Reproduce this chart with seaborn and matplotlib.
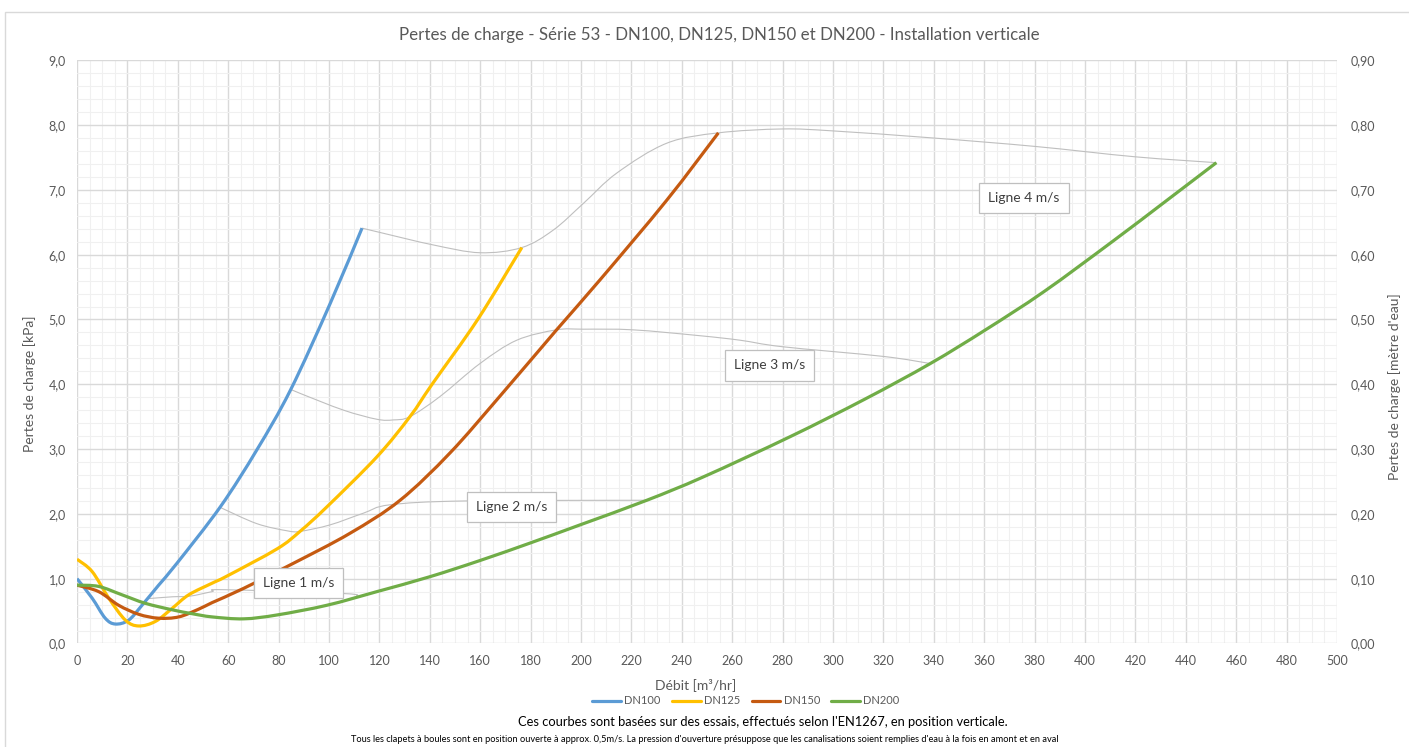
import matplotlib
matplotlib.use("Agg")
import matplotlib.pyplot as plt
import matplotlib.patches as mpatches
from matplotlib.path import Path
from matplotlib.lines import Line2D
from matplotlib.ticker import MultipleLocator, FuncFormatter
import seaborn as sns
import pandas as pd

# ---------------- data ----------------
series_names = ["DN100", "DN125", "DN150", "DN200"]

dn100_x = [0, 6, 11.2, 15.2, 20.5, 25.8, 32.4, 39.7, 56.9, 71.4, 84.7, 100.5, 113.1]
dn100_y = [1.00, 0.70, 0.39, 0.30, 0.36, 0.59, 0.90, 1.24, 2.11, 2.99, 3.91, 5.25, 6.41]

dn125_x = [0, 6, 12.6, 19.2, 24.5, 31.1, 37.7, 44.3, 53.6, 59.5, 79.4, 88.5, 99.2, 119, 132.1, 140.9, 159, 176.5]
dn125_y = [1.30, 1.11, 0.70, 0.36, 0.27, 0.34, 0.54, 0.75, 0.93, 1.04, 1.46, 1.73, 2.11, 2.88, 3.50, 4.00, 5.00, 6.11]

dn150_x = [0, 8.6, 16.5, 24.5, 32.4, 40.4, 48.3, 53.6, 66.1, 86, 108.3, 128.2, 148, 167.9, 190.3, 207.5, 234, 254.5]
dn150_y = [0.90, 0.80, 0.59, 0.45, 0.39, 0.41, 0.53, 0.63, 0.85, 1.24, 1.70, 2.21, 2.94, 3.82, 4.84, 5.61, 6.84, 7.88]

dn200_x = [0, 8.6, 17.9, 27.1, 37.7, 45.6, 53.6, 66.1, 79.4, 99.2, 119, 140, 159.9, 179.8, 199.6, 226.1,
           248.5, 282.9, 312.6, 338.6, 360.5, 383.7, 411.1, 431.5, 452.1]
dn200_y = [0.90, 0.88, 0.75, 0.62, 0.52, 0.46, 0.41, 0.38, 0.44, 0.59, 0.80, 1.03, 1.28, 1.55, 1.83, 2.21,
           2.57, 3.19, 3.77, 4.32, 4.84, 5.43, 6.21, 6.81, 7.42]

# equal-velocity guide lines
ligne1_x = [27.6, 37.7, 44.8, 53.6, 58.1, 106, 111]
ligne1_y = [0.69, 0.72, 0.73, 0.80, 0.83, 0.77, 0.73]
ligne2_x = [56.8, 71.3, 83.2, 88.5, 100.4, 113.6, 124.2, 154.6, 226.1]
ligne2_y = [2.10, 1.85, 1.74, 1.73, 1.83, 2.01, 2.14, 2.20, 2.21]
ligne3_x = [85.0, 88.5, 105.8, 119, 125.5, 132.1, 144, 159.9, 174.5, 190.3, 200.9, 220.7, 247, 263.1, 279.8, 319.9, 338.6]
ligne3_y = [3.92, 3.86, 3.60, 3.46, 3.45, 3.50, 3.81, 4.32, 4.68, 4.84, 4.85, 4.84, 4.75, 4.68, 4.58, 4.43, 4.32]
ligne4_x = [113.1, 121.6, 141.4, 159.9, 176.5, 189, 200.9, 214.2, 234, 254.5, 279.8, 300, 340, 380.3, 420, 452.1]
ligne4_y = [6.41, 6.33, 6.15, 6.03, 6.11, 6.38, 6.79, 7.26, 7.72, 7.88, 7.94, 7.91, 7.80, 7.67, 7.51, 7.42]

ligne_labels = ["Ligne 1 m/s", "Ligne 2 m/s", "Ligne 3 m/s", "Ligne 4 m/s"]

title = "Pertes de charge - Série 53 - DN100, DN125, DN150 et DN200 - Installation verticale"
xlabel = "Débit [m³/hr]"
ylabel_left = "Pertes de charge [kPa]"
ylabel_right = "Pertes de charge [mètre d'eau]"
note1 = "Ces courbes sont basées sur des essais, effectués selon l'EN1267, en position verticale."
note2 = ("Tous les clapets à boules sont en position ouverte à approx. 0,5m/s. La pression d'ouverture "
         "présuppose que les canalisations soient remplies d'eau à la fois en amont et en aval")

# ---------------- styling ----------------
colors = ["#5B9BD5", "#FFC000", "#C55A11", "#70AD47"]
txt_gray = "#595959"

sns.set_theme(style="white")
plt.rcParams["font.family"] = ["Lato", "DejaVu Sans"]

fig = plt.figure(figsize=(14.09, 7.47), dpi=100)
ax = fig.add_axes([0.05465, 0.1386, 0.8943, 0.7807])

# chart frame
fig.patches.append(mpatches.Rectangle((5 / 1409, -0.02), 1.2, (747 - 12) / 747 + 0.02,
                                      transform=fig.transFigure, fill=False,
                                      edgecolor="#D9D9D9", linewidth=1.0, zorder=0))

frames = []
for name, xs, ys in zip(series_names, [dn100_x, dn125_x, dn150_x, dn200_x],
                        [dn100_y, dn125_y, dn150_y, dn200_y]):
    frames.append(pd.DataFrame({"Débit": xs, "kPa": ys, "Série": name}))
df = pd.concat(frames, ignore_index=True)

guides = []
for i, (xs, ys) in enumerate(zip([ligne1_x, ligne2_x, ligne3_x, ligne4_x],
                                 [ligne1_y, ligne2_y, ligne3_y, ligne4_y])):
    guides.append(pd.DataFrame({"Débit": xs, "kPa": ys, "Ligne": ligne_labels[i]}))
gdf = pd.concat(guides, ignore_index=True)

sns.lineplot(data=gdf, x="Débit", y="kPa", units="Ligne", estimator=None, sort=False,
             color="#BFBFBF", linewidth=0.8, ax=ax, legend=False, zorder=2)
sns.lineplot(data=df, x="Débit", y="kPa", hue="Série", hue_order=series_names,
             palette=colors, estimator=None, sort=False, linewidth=2.3, ax=ax,
             legend=False, zorder=3)


def smooth_path(pts):
    """Excel-like 'smoothed line' rendering: Bezier segments through the same points."""
    n = len(pts)
    verts = [tuple(pts[0])]
    codes = [Path.MOVETO]
    for i in range(n - 1):
        p0 = pts[i - 1] if i > 0 else pts[i]
        p1 = pts[i]
        p2 = pts[i + 1]
        p3 = pts[i + 2] if i + 2 < n else pts[i + 1]
        c1 = (p1[0] + (p2[0] - p0[0]) / 6, p1[1] + (p2[1] - p0[1]) / 6)
        c2 = (p2[0] - (p3[0] - p1[0]) / 6, p2[1] - (p3[1] - p1[1]) / 6)
        verts += [c1, c2, tuple(p2)]
        codes += [Path.CURVE4] * 3
    return Path(verts, codes)


for line in list(ax.lines):
    xy = line.get_xydata()
    if len(xy) < 3:
        continue
    patch = mpatches.PathPatch(smooth_path(xy), fill=False, edgecolor=line.get_color(),
                               linewidth=line.get_linewidth(), zorder=line.get_zorder(),
                               joinstyle="round", capstyle="butt", transform=ax.transData)
    ax.add_patch(patch)
    line.set_visible(False)

ax.set_xlim(0, 500)
ax.set_ylim(0, 9)
ax.xaxis.set_major_locator(MultipleLocator(20))
ax.xaxis.set_minor_locator(MultipleLocator(5))
ax.yaxis.set_major_locator(MultipleLocator(1))
ax.yaxis.set_minor_locator(MultipleLocator(0.2))
ax.grid(which="major", color="#D9D9D9", linewidth=1.0, zorder=0)
ax.grid(which="minor", color="#F0F0F0", linewidth=0.8, zorder=0)
ax.set_axisbelow(True)
for s in ax.spines.values():
    s.set_visible(False)
ax.tick_params(axis="both", which="both", length=0, colors=txt_gray, labelsize=9)
ax.tick_params(axis="x", pad=8)
ax.tick_params(axis="y", pad=8)
ax.yaxis.set_major_formatter(FuncFormatter(lambda v, p: f"{v:.1f}".replace(".", ",")))
ax.set_xlabel(xlabel, color=txt_gray, fontsize=10)
ax.xaxis.set_label_coords((696 - 77) / 1260, -0.06)
ax.set_ylabel(ylabel_left, color=txt_gray, fontsize=10)
ax.yaxis.set_label_coords((36 - 77) / 1260, 0.445)

ax2 = ax.twinx()
ax2.set_ylim(0, 0.9)
ax2.yaxis.set_major_locator(MultipleLocator(0.1))
ax2.yaxis.set_major_formatter(FuncFormatter(lambda v, p: f"{v:.2f}".replace(".", ",")))
ax2.tick_params(axis="y", length=0, colors=txt_gray, labelsize=9, pad=10)
ax2.grid(False)
for s in ax2.spines.values():
    s.set_visible(False)
ax2.set_ylabel(ylabel_right, color=txt_gray, fontsize=10)
ax2.yaxis.set_label_coords((1388 - 77) / 1260, 0.44)

# label boxes (layout positions, data coords)
label_pos = [(87.9, 0.93), (172.5, 2.11), (274.7, 4.29), (375.7, 6.87)]
for lab, (lx, ly) in zip(ligne_labels, label_pos):
    ax.text(lx, ly, lab, ha="center", va="center", fontsize=10, color="#404040", zorder=6,
            bbox=dict(boxstyle="square,pad=0.65", facecolor="white", edgecolor="#BFBFBF", linewidth=0.9))

fig.suptitle(title, x=719 / 1409, y=1 - 35 / 747, va="center", fontsize=12.2, color=txt_gray)

handles = [Line2D([0], [0], color=c, linewidth=2.3) for c in colors]
fig.legend(handles, series_names, loc="center", bbox_to_anchor=(746 / 1409, 1 - 701 / 747),
           ncol=4, frameon=False, fontsize=8, labelcolor=txt_gray, handlelength=2.6,
           handletextpad=0.3, columnspacing=1.0)

fig.text(763 / 1409, 1 - 722 / 747, note1, ha="center", va="center", fontsize=9.3, color="black")
fig.text(705 / 1409, 1 - 740 / 747, note2, ha="center", va="center", fontsize=6.7, color="black")

fig.savefig("out.png", dpi=100)
